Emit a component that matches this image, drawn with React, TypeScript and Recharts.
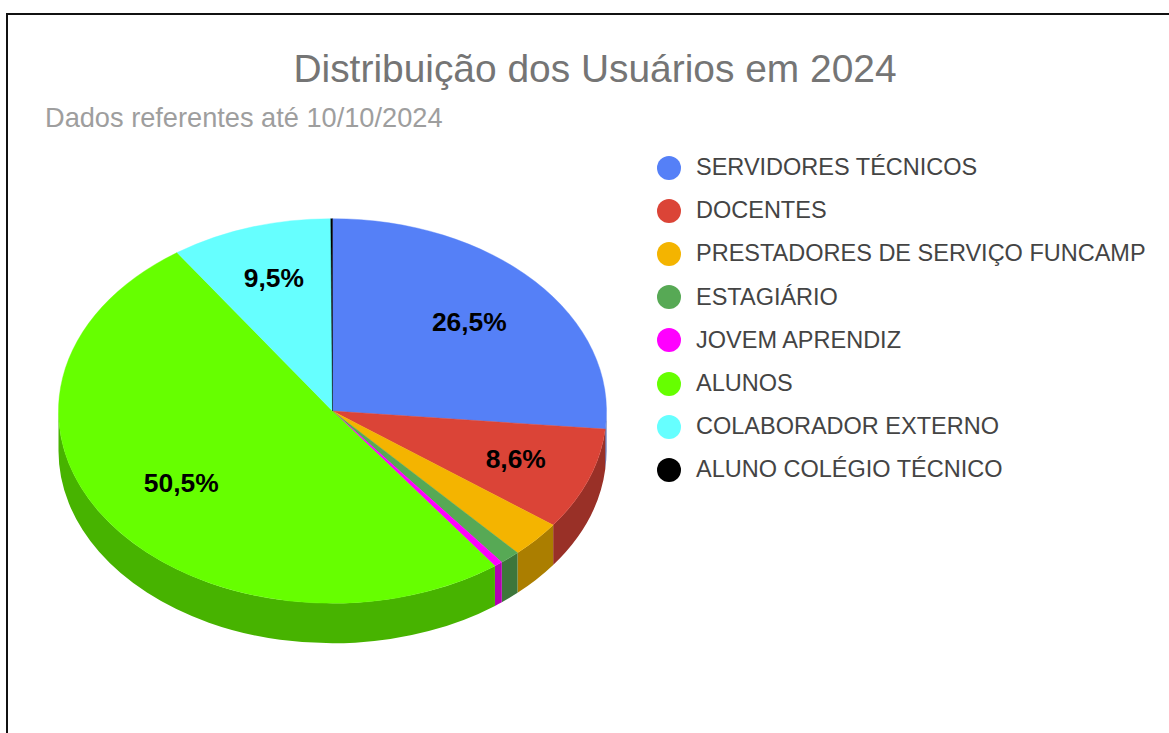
import { PieChart, Pie, Legend } from 'recharts';

const categories = [
  'SERVIDORES TÉCNICOS',
  'DOCENTES',
  'PRESTADORES DE SERVIÇO FUNCAMP',
  'ESTAGIÁRIO',
  'JOVEM APRENDIZ',
  'ALUNOS',
  'COLABORADOR EXTERNO',
  'ALUNO COLÉGIO TÉCNICO',
];
const percents = [26.5, 8.6, 3.1, 1.2, 0.5, 50.5, 9.5, 0.1];
const colors = ['#5580f7', '#db4437', '#f4b400', '#57a955', '#ff00ff', '#66ff00', '#66ffff', '#000000'];

const data = categories.map((name, i) => ({ name, value: percents[i], fill: colors[i] }));

const FONT = '"Liberation Sans", Arial, sans-serif';
const SQUASH = 0.702;
const DEPTH = 40;
const RAD = Math.PI / 180;

function point(cx: number, cy: number, r: number, deg: number) {
  return {
    x: cx + r * Math.cos(deg * RAD),
    y: cy - r * SQUASH * Math.sin(deg * RAD),
  };
}

function darken(hex: string) {
  const n = parseInt(hex.slice(1), 16);
  const c = [(n >> 16) & 255, (n >> 8) & 255, n & 255].map(v => Math.round(v * 0.7));
  return `rgb(${c[0]},${c[1]},${c[2]})`;
}

// top face of the slice, flattened to an ellipse
function TopSlice(props: any) {
  const { cx, cy, outerRadius: r, startAngle, endAngle, fill } = props;
  const a = point(cx, cy, r, startAngle);
  const b = point(cx, cy, r, endAngle);
  const large = Math.abs(startAngle - endAngle) > 180 ? 1 : 0;
  const d = `M${cx},${cy} L${a.x},${a.y} A${r},${r * SQUASH} 0 ${large} 1 ${b.x},${b.y} Z`;
  return <path d={d} fill={fill} stroke={fill} strokeWidth={0.4} />;
}

// outer wall, only the part of the rim on the front half is visible
function WallSlice(props: any) {
  const { cx, cy, outerRadius: r, startAngle, endAngle, fill } = props;
  const from = Math.min(startAngle, 0);
  const to = Math.max(endAngle, -180);
  if (from <= to) return null;
  const a = point(cx, cy, r, from);
  const b = point(cx, cy, r, to);
  const ry = r * SQUASH;
  const d = `M${a.x},${a.y} A${r},${ry} 0 0 1 ${b.x},${b.y} L${b.x},${b.y + DEPTH} A${r},${ry} 0 0 0 ${a.x},${a.y + DEPTH} Z`;
  return <path d={d} fill={darken(fill)} />;
}

// small per-slice nudges for the labels, the original does not centre them exactly
const labelNudges: Record<string, [number, number]> = {
  'SERVIDORES TÉCNICOS': [-5, 2],
  DOCENTES: [4, 0],
  ALUNOS: [5, -6],
  'COLABORADOR EXTERNO': [-1, -5],
};

function renderLabel(props: any) {
  const { cx, cy, midAngle, outerRadius, value, name } = props;
  if (value < 5) return null;
  const p = point(cx, cy, outerRadius * 0.7, midAngle);
  const [nx, ny] = labelNudges[name] ?? [0, 0];
  return (
    <text
      x={p.x + nx}
      y={p.y + ny}
      textAnchor="middle"
      dominantBaseline="central"
      fill="#000"
      fontFamily={FONT}
      fontWeight={700}
      fontSize={26.4}
    >
      {value.toFixed(1).replace('.', ',')}%
    </text>
  );
}

function LegendList() {
  return (
    <div>
      {data.map(d => (
        <div key={d.name} style={{ display: 'flex', alignItems: 'center', height: 43.2 }}>
          <span
            style={{
              width: 24,
              height: 24,
              borderRadius: '50%',
              background: d.fill,
              marginRight: 15,
              flex: 'none',
            }}
          />
          <span style={{ fontFamily: FONT, fontSize: 23.5, color: '#444', whiteSpace: 'nowrap' }}>{d.name}</span>
        </div>
      ))}
    </div>
  );
}

export default function App() {
  return (
    <div
      style={{
        position: 'absolute',
        left: 0,
        top: 0,
        width: 1169,
        height: 733,
        overflow: 'hidden',
        background: '#fff',
      }}
    >
      <div
        style={{
          position: 'absolute',
          left: 6,
          top: 13,
          width: 1300,
          height: 900,
          border: '2px solid #111',
        }}
      />
      <div
        style={{
          position: 'absolute',
          left: 0,
          top: 46,
          width: 1190,
          textAlign: 'center',
          fontFamily: FONT,
          fontSize: 38.9,
          color: '#757575',
          lineHeight: '46px',
        }}
      >
        Distribuição dos Usuários em 2024
      </div>
      <div
        style={{
          position: 'absolute',
          left: 45,
          top: 102,
          fontFamily: FONT,
          fontSize: 27.2,
          color: '#9e9e9e',
          lineHeight: '32px',
        }}
      >
        Dados referentes até 10/10/2024
      </div>
      <div style={{ position: 'absolute', left: 0, top: 0 }}>
        <PieChart width={1169} height={733} margin={{ top: 0, right: 0, bottom: 0, left: 0 }}>
          <Pie
            data={data}
            dataKey="value"
            nameKey="name"
            cx={332.5}
            cy={411}
            outerRadius={274}
            startAngle={90}
            endAngle={-270}
            legendType="none"
            shape={WallSlice}
            isAnimationActive={false}
          />
          <Pie
            data={data}
            dataKey="value"
            nameKey="name"
            cx={332.5}
            cy={411}
            outerRadius={274}
            startAngle={90}
            endAngle={-270}
            shape={TopSlice}
            label={renderLabel}
            labelLine={false}
            isAnimationActive={false}
          />
          <Legend
            content={LegendList}
            wrapperStyle={{ position: 'absolute', left: 657, top: 146, width: 510, bottom: 'auto' }}
          />
        </PieChart>
      </div>
    </div>
  );
}
